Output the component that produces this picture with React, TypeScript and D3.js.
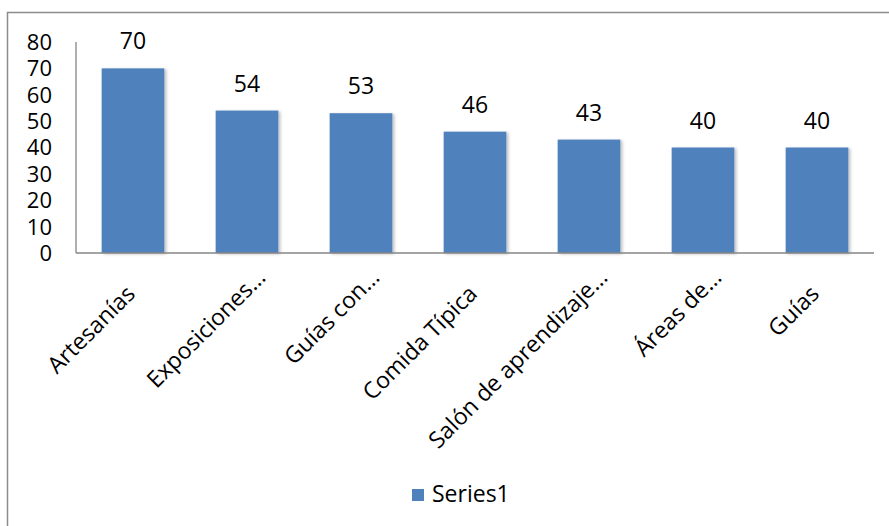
import React from "react";
import * as d3 from "d3";

const categories = ["Artesanías", "Exposiciones…", "Guías con…", "Comida Típica", "Salón de aprendizaje…", "Áreas de…", "Guías"];
const values = [70, 54, 53, 46, 43, 40, 40];
const yTicks = [0, 10, 20, 30, 40, 50, 60, 70, 80];
const seriesName = "Series1";

const W = 889;
const H = 526;
const FONT = "'Open Sans', Lato, sans-serif";
const FS = 23;
const BAR = "#4F81BD";

export default function App() {
  const x = d3.scaleBand<string>().domain(categories).range([76, 874]).paddingInner(0.45).paddingOuter(0.225);
  const y = d3.scaleLinear().domain([0, 80]).range([253, 42]);

  return (
    <svg width={W} height={H} style={{ position: "absolute", left: 0, top: 0, background: "#fff" }}>
      <defs>
        <filter id="sh" x="-20%" y="-10%" width="140%" height="130%">
          <feDropShadow dx="2" dy="1" stdDeviation="1.5" floodColor="#000" floodOpacity="0.25" />
        </filter>
      </defs>
      <rect x={7.5} y={12.5} width={W + 20} height={H + 20} fill="#fff" stroke="#8c8c8c" strokeWidth={1.5} />
      {categories.map((c, i) => (
        <rect key={c} x={x(c)} y={y(values[i])} width={x.bandwidth()} height={y(0) - y(values[i])} fill={BAR} filter="url(#sh)" />
      ))}
      <line x1={76} x2={76} y1={y(80)} y2={y(0)} stroke="#868686" strokeWidth={1.3} />
      <line x1={76} x2={874} y1={y(0)} y2={y(0)} stroke="#868686" strokeWidth={1.3} />
      {yTicks.map((t) => (
        <text key={t} x={52} y={y(t)} dy="0.36em" textAnchor="end" fontFamily={FONT} fontSize={22} fill="#000">
          {t}
        </text>
      ))}
      {categories.map((c, i) => (
        <text key={"v" + c} x={(x(c) as number) + x.bandwidth() / 2} y={y(values[i]) - 19} textAnchor="middle" fontFamily={FONT} fontSize={FS} fill="#000">
          {values[i]}
        </text>
      ))}
      {categories.map((c) => {
        const cx = (x(c) as number) + x.bandwidth() / 2;
        const shift = c.endsWith("…") ? 19 : -4;
        return (
          <text key={"l" + c} transform={`translate(${cx - 5},${y(0) + 28}) rotate(-45)`} textAnchor="end" dx={shift} dy="0.7em" fontFamily={FONT} fontSize={FS} fill="#000">
            {c}
          </text>
        );
      })}
      <rect x={412} y={489} width={12} height={12} fill={BAR} />
      <text x={432} y={502} fontFamily={FONT} fontSize={FS} fill="#000">{seriesName}</text>
    </svg>
  );
}
